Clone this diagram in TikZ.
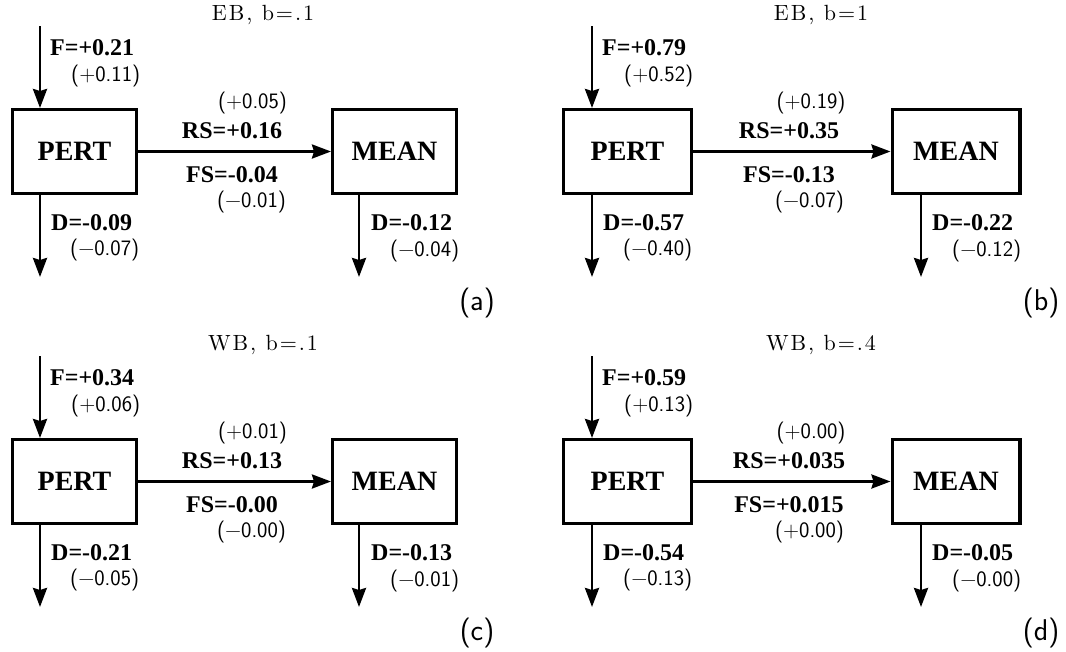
\documentclass[tikz,border=0pt]{standalone}
\usepackage{fontspec}
\usetikzlibrary{arrows.meta}
\newfontfamily\tms{Liberation Serif}
\newfontfamily\ttlfont[LetterSpace=9]{lmroman10-regular.otf}
\tikzset{
  box/.style={draw, line width=3.2pt, minimum width=123.8pt, minimum height=83.8pt, inner sep=0pt,
    font=\tms\bfseries\fontsize{28}{30}\selectfont},
  boxb/.style={box, minimum width=127.8pt},
  arr/.style={line width=2.8pt, -{Stealth[length=19pt,width=14pt,inset=2pt]}},
  big/.style={inner sep=0pt, font=\tms\bfseries\fontsize{24}{26}\selectfont},
  sm/.style={inner sep=0pt, font=\sffamily\fontsize{22}{24}\selectfont},
  ttl/.style={inner sep=0pt, font=\ttlfont\fontsize{22}{24}\selectfont},
  lab/.style={inner sep=0pt, font=\sffamily\fontsize{30}{32}\selectfont}
}
\begin{document}
\begin{tikzpicture}[x=1pt,y=-1pt]
\useasboundingbox (0,0) rectangle (1066,651);
% ---------- panel (a)
\node[ttl] (ta) at (263,15) {EB, b=.1};
\node[box] (pa) at (74.5,151.5) {PERT};
\node[box] (ma) at (394.5,151.5) {MEAN};
\coordinate (fa) at (40,26);
\coordinate (da) at (40,277);
\coordinate (ea) at (359,277);
\draw[arr] (fa) -- (fa |- pa.north);
\draw[arr] (pa.south -| da) -- (da);
\draw[arr] (ma.south -| ea) -- (ea);
\draw[arr] (pa.east) -- (ma.west);
\node[big,anchor=west] (fla) at (50,48) {F=+0.21};
\node[sm,anchor=west] (fsa) at (71,76) {(+0.11)};
\node[sm] (rsa2) at (252.5,103) {(+0.05)};
\node[big] (rsa) at (232,131) {RS=+0.16};
\node[big] (fsla) at (232,175) {FS=-0.04};
\node[sm] (fsa2) at (251.5,202) {(−0.01)};
\node[big,anchor=west] (dla) at (51,223) {D=-0.09};
\node[sm,anchor=west] (dsa) at (70,250) {(−0.07)};
\node[big,anchor=west] (dma) at (371,223) {D=-0.12};
\node[sm,anchor=west] (dmsa) at (390,251) {(−0.04)};
\node[lab] (la) at (477,303) {(a)};
% ---------- panel (b)
\node[ttl] (tb) at (821,15) {EB, b=1};
\node[boxb] (pb) at (627.5,151.5) {PERT};
\node[boxb] (mb) at (956,151.5) {MEAN};
\coordinate (fb) at (592,26);
\coordinate (db) at (592,277);
\coordinate (eb) at (921,277);
\draw[arr] (fb) -- (fb |- pb.north);
\draw[arr] (pb.south -| db) -- (db);
\draw[arr] (mb.south -| eb) -- (eb);
\draw[arr] (pb.east) -- (mb.west);
\node[big,anchor=west] (flb) at (602,48) {F=+0.79};
\node[sm,anchor=west] (fsb) at (624,76) {(+0.52)};
\node[sm] (rsb2) at (811,103) {(+0.19)};
\node[big] (rsb) at (789,131) {RS=+0.35};
\node[big] (fslb) at (789,175) {FS=-0.13};
\node[sm] (fsb2) at (809.5,202) {(−0.07)};
\node[big,anchor=west] (dlb) at (603,223) {D=-0.57};
\node[sm,anchor=west] (dsb) at (623,250) {(−0.40)};
\node[big,anchor=west] (dmb) at (932,223) {D=-0.22};
\node[sm,anchor=west] (dmsb) at (952,251) {(−0.12)};
\node[lab] (lb) at (1041,303) {(b)};
% ---------- panel (c)
\begin{scope}[shift={(0,330)}]
\node[ttl] (tc) at (263,15) {WB, b=.1};
\node[box] (pc) at (74.5,151.5) {PERT};
\node[box] (mc) at (394.5,151.5) {MEAN};
\coordinate (fc) at (40,26);
\coordinate (dc) at (40,277);
\coordinate (ec) at (359,277);
\draw[arr] (fc) -- (fc |- pc.north);
\draw[arr] (pc.south -| dc) -- (dc);
\draw[arr] (mc.south -| ec) -- (ec);
\draw[arr] (pc.east) -- (mc.west);
\node[big,anchor=west] (flc) at (50,48) {F=+0.34};
\node[sm,anchor=west] (fsc) at (71,76) {(+0.06)};
\node[sm] (rsc2) at (252.5,103) {(+0.01)};
\node[big] (rsc) at (232,131) {RS=+0.13};
\node[big] (fslc) at (232,175) {FS=-0.00};
\node[sm] (fsc2) at (251.5,202) {(−0.00)};
\node[big,anchor=west] (dlc) at (51,223) {D=-0.21};
\node[sm,anchor=west] (dsc) at (70,250) {(−0.05)};
\node[big,anchor=west] (dmc) at (371,223) {D=-0.13};
\node[sm,anchor=west] (dmsc) at (390,251) {(−0.01)};
\node[lab] (lc) at (477,303) {(c)};
\end{scope}
% ---------- panel (d)
\begin{scope}[shift={(0,330)}]
\node[ttl] (td) at (821,15) {WB, b=.4};
\node[boxb] (pd) at (627.5,151.5) {PERT};
\node[boxb] (md) at (956,151.5) {MEAN};
\coordinate (fd) at (592,26);
\coordinate (dd) at (592,277);
\coordinate (ed) at (921,277);
\draw[arr] (fd) -- (fd |- pd.north);
\draw[arr] (pd.south -| dd) -- (dd);
\draw[arr] (md.south -| ed) -- (ed);
\draw[arr] (pd.east) -- (md.west);
\node[big,anchor=west] (fld) at (602,48) {F=+0.59};
\node[sm,anchor=west] (fsd) at (624,76) {(+0.13)};
\node[sm] (rsd2) at (811,103) {(+0.00)};
\node[big] (rsd) at (789,131) {RS=+0.035};
\node[big] (fsld) at (789,175) {FS=+0.015};
\node[sm] (fsd2) at (809.5,202) {(+0.00)};
\node[big,anchor=west] (dld) at (603,223) {D=-0.54};
\node[sm,anchor=west] (dsd) at (623,250) {(−0.13)};
\node[big,anchor=west] (dmd) at (932,223) {D=-0.05};
\node[sm,anchor=west] (dmsd) at (952,251) {(−0.00)};
\node[lab] (ld) at (1041,303) {(d)};
\end{scope}
\end{tikzpicture}
\end{document}
